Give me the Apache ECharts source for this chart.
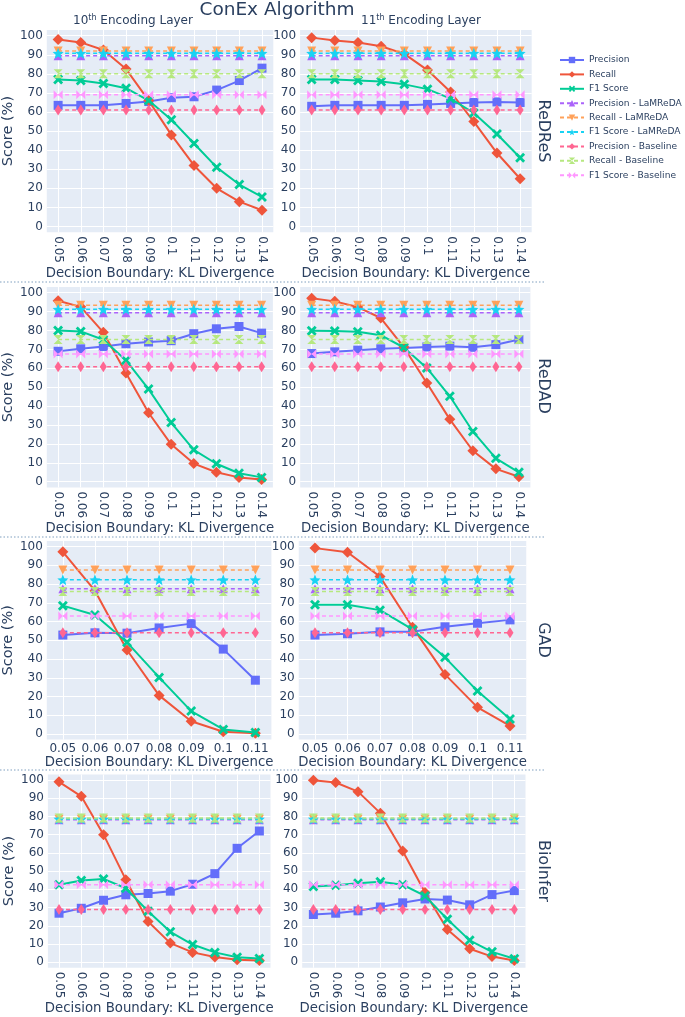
<!DOCTYPE html>
<html><head><meta charset="utf-8">
<script src="https://cdn.jsdelivr.net/npm/echarts@6/dist/echarts.min.js"></script>
<style>html,body{margin:0;padding:0;background:#fff}#c{width:685px;height:1017px}</style>
</head><body><div id="c"></div>
<script>
// ---------- DATA ----------
const catsLong = ['0.05','0.06','0.07','0.08','0.09','0.1','0.11','0.12','0.13','0.14'];
const catsShort = ['0.05','0.06','0.07','0.08','0.09','0.1','0.11'];
const yTicks = [0,10,20,30,40,50,60,70,80,90,100];
const datasetNames = ['ReDReS','ReDAD','GAD','BioInfer'];
const seriesNames = ['Precision','Recall','F1 Score','Precision - LaMReDA','Recall - LaMReDA','F1 Score - LaMReDA','Precision - Baseline','Recall - Baseline','F1 Score - Baseline'];

// ReDReS
const redres10Precision = [63.5,63.5,63.5,64.5,65.5,67.5,68,71.5,76.5,83];
const redres10Recall    = [98,96.5,92.5,82.5,66,48,32,20,13,8.5];
const redres10F1        = [77,76.5,75,72.5,66,56,43.5,31,22,15.5];
const redres11Precision = [63,63.5,63.5,63.5,63.5,64,64.5,65,65.3,65];
const redres11Recall    = [99,97.5,96.5,94.5,90.5,82,70.5,55,38.5,25];
const redres11F1        = [77,77,76.5,76,74.5,72,67,59.5,48.5,36];
// reference levels: P-LaMReDA, R-LaMReDA, F1-LaMReDA, P-Baseline, R-Baseline, F1-Baseline
const redresRefs        = [89.5,92,90.8,61,80,69];

// ReDAD
const redad10Precision = [69,70.3,71.5,73,73.9,74.6,78.3,80.9,82.1,78.6];
const redad10Recall    = [95.7,92.5,79,57.5,36.5,19.8,9.6,5,2.3,1.2];
const redad10F1        = [80,79.5,75.1,64.3,49,31.3,16.9,9.5,4.5,2.3];
const redad11Precision = [67.8,68.7,69.6,70.3,70.8,71.3,71.7,71.1,72.5,75.2];
const redad11Recall    = [97,95.4,92.4,86.6,71.2,52.2,33,16.4,6.8,2.6];
const redad11F1        = [79.8,79.7,79.3,77.5,71,60.2,45.2,26.6,12.4,5];
const redadRefs        = [89.4,93.4,91.2,60.8,75.2,67.6];

// GAD
const gad10Precision = [52.8,54,53.8,56.6,58.9,45.3,28.7];
const gad10Recall    = [97.2,76.5,44.8,20.6,6.8,1.2,0.4];
const gad10F1        = [68.5,63.5,48.9,30.2,12.2,2.4,0.8];
const gad11Precision = [52.8,53.5,54.5,54.6,57.2,59.1,60.9];
const gad11Recall    = [99.2,97,84,57,31.8,14.2,4.3];
const gad11F1        = [69,69,66.1,55.8,40.9,22.9,8];
const gadRefs        = [77.5,87.5,82.3,54,76,63];

// BioInfer
const bio10Precision = [26.9,29.6,34,37,37.7,39,42.8,48.6,62.5,72];
const bio10Recall    = [99,91,70,45.3,22.3,10.5,5.4,2.9,1.4,1];
const bio10F1        = [42.5,44.8,45.7,40.6,28,16.7,9.7,5.4,2.7,2];
const bio11Precision = [26.2,26.9,28.2,30.3,32.6,34.7,34.1,31.5,37.1,39.3];
const bio11Recall    = [99.8,98.6,93.6,81.8,61,38.3,18,7.4,3.1,1];
const bio11F1        = [41.5,42.3,43.3,44.2,42.5,36.4,23.6,12,5.7,1.9];
const bioRefs        = [78.2,78.4,78.6,29,79.2,42.5];

// ---------- LAYOUT / STYLE ----------
const FONT = 'DejaVu Sans';
const TXT = '#2a3f5f';
const colors = ['#636EFA','#EF553B','#00CC96','#AB63FA','#FFA15A','#19D3F3','#FF6692','#B6E880','#FF97FF'];
const pX = 'path://M2,0 L5,3 L8,0 L10,2 L7,5 L10,8 L8,10 L5,7 L2,10 L0,8 L3,5 L0,2 Z';
const pTriDown = 'path://M0,0 L10,0 L5,9 Z';
const pStar = 'path://M5,0 L6.3,3.3 L9.76,3.45 L7.1,5.7 L7.94,9.05 L5,7.2 L2.06,9.05 L2.9,5.7 L0.24,3.45 L3.7,3.3 Z';
const pThinDia = 'path://M3,0 L6,5 L3,10 L0,5 Z';
const pHour = 'path://M0,0 L10,0 L5,5 Z M0,10 L10,10 L5,5 Z';
const pBow = 'path://M0,0 L5,5 L0,10 Z M10,0 L5,5 L10,10 Z';
const symbols = ['rect','diamond',pX,'triangle',pTriDown,pStar,pThinDia,pHour,pBow];
const symSizes = [9,11,10,9,9,11,[7,11],9,9];

const rowGeom = [
  {top:30, height:202.2, rot:-90, gap:33},
  {top:287, height:200.4, rot:-90, gap:33},
  {top:541, height:198.6, rot:0, gap:16},
  {top:774.5, height:193.2, rot:-90, gap:33}
];
const colGeom = [
  [[40,233.3],[300.1,231.6]],
  [[39.6,233.3],[300.2,230.2]],
  [[41.9,229.5],[298.75,227.5]],
  [[47.9,222.6],[302.2,223.3]]
];

const panels = [
  {row:0,col:0,cats:catsLong,vals:[redres10Precision,redres10Recall,redres10F1],refs:redresRefs},
  {row:0,col:1,cats:catsLong,vals:[redres11Precision,redres11Recall,redres11F1],refs:redresRefs},
  {row:1,col:0,cats:catsLong,vals:[redad10Precision,redad10Recall,redad10F1],refs:redadRefs},
  {row:1,col:1,cats:catsLong,vals:[redad11Precision,redad11Recall,redad11F1],refs:redadRefs},
  {row:2,col:0,cats:catsShort,vals:[gad10Precision,gad10Recall,gad10F1],refs:gadRefs},
  {row:2,col:1,cats:catsShort,vals:[gad11Precision,gad11Recall,gad11F1],refs:gadRefs},
  {row:3,col:0,cats:catsLong,vals:[bio10Precision,bio10Recall,bio10F1],refs:bioRefs},
  {row:3,col:1,cats:catsLong,vals:[bio11Precision,bio11Recall,bio11F1],refs:bioRefs}
];

const grids = [], xAxes = [], yAxes = [], series = [];
panels.forEach((p, i) => {
  const rg = rowGeom[p.row], cg = colGeom[p.row][p.col];
  grids.push({left:cg[0], width:cg[1], top:rg.top, height:rg.height, show:true, backgroundColor:'#E5ECF6', borderWidth:0, containLabel:false});
  const idx = p.cats.map((c, j) => j);
  xAxes.push({
    type:'value', gridIndex:i, min:-0.5, max:p.cats.length-0.5,
    axisLine:{show:false},
    axisTick:{show:false, customValues:idx},
    splitLine:{show:true, customValues:idx, lineStyle:{color:'#fff', width:1}},
    axisLabel:{customValues:idx, rotate:rg.rot, margin:rg.rot ? 4 : 3, fontFamily:FONT, fontSize:12, color:TXT,
      formatter:v => p.cats[Math.round(v)]},
    name:'Decision Boundary: KL Divergence', nameLocation:'middle', nameGap:rg.gap,
    nameTextStyle:{fontFamily:FONT, fontSize:13.3, color:TXT}
  });
  yAxes.push({
    type:'value', gridIndex:i, min:-3, max:103,
    axisLine:{show:false},
    axisTick:{show:false, customValues:yTicks},
    splitLine:{show:true, customValues:yTicks, lineStyle:{color:'#fff', width:1}},
    axisLabel:{customValues:yTicks, margin:4, fontFamily:FONT, fontSize:12, color:TXT},
    name: p.col === 0 ? 'Score (%)' : '', nameLocation:'middle', nameGap:24,
    nameTextStyle:{fontFamily:FONT, fontSize:14.5, color:TXT}
  });
  for (let s = 0; s < 9; s++) {
    const main = s < 3;
    const data = main ? p.vals[s].map((v, j) => [j, v]) : p.cats.map((c, j) => [j, p.refs[s-3]]);
    series.push({
      type:'line', name:seriesNames[s], xAxisIndex:i, yAxisIndex:i, data:data,
      symbol:symbols[s], symbolSize:symSizes[s], showAllSymbol:true,
      itemStyle:{color:colors[s]},
      lineStyle:{color:colors[s], width: main ? 2 : 1.5, type: main ? 'solid' : [4,3]},
      emphasis:{disabled:true}, z: 2 + s*0.01
    });
  }
});

const graphics = [
  {type:'text', x:277, y:10, style:{text:'ConEx Algorithm', fontFamily:FONT, fontSize:18.5, fill:TXT, align:'center', verticalAlign:'middle'}},
  {type:'text', x:133, y:21, style:{text:'{a|10}{s|th}{a| Encoding Layer}', align:'center', verticalAlign:'middle',
     rich:{a:{fontFamily:FONT, fontSize:12, fill:TXT, color:TXT, lineHeight:14}, s:{fontFamily:FONT, fontSize:8, fill:TXT, color:TXT, verticalAlign:'top', lineHeight:14, padding:[0,0,6,0]}}}},
  {type:'text', x:421, y:21, style:{text:'{a|11}{s|th}{a| Encoding Layer}', align:'center', verticalAlign:'middle',
     rich:{a:{fontFamily:FONT, fontSize:12, fill:TXT, color:TXT, lineHeight:14}, s:{fontFamily:FONT, fontSize:8, fill:TXT, color:TXT, verticalAlign:'top', lineHeight:14, padding:[0,0,6,0]}}}}
];
const rowLabelY = [131, 386, 640, 871];
datasetNames.forEach((n, k) => {
  graphics.push({type:'text', x:543, y:rowLabelY[k], rotation:-Math.PI/2,
    style:{text:n, fontFamily:FONT, fontSize:16, fill:TXT, align:'center', verticalAlign:'middle'}});
});
[282, 537, 770].forEach(y => {
  graphics.push({type:'line', shape:{x1:0, y1:y, x2:545, y2:y}, style:{stroke:'#7f9fbf', lineWidth:1, lineDash:[1.5,2]}});
});

const chart = echarts.init(document.getElementById('c'), null, {renderer:'canvas'});
chart.setOption({
  animation:false,
  backgroundColor:'#fff',
  grid:grids, xAxis:xAxes, yAxis:yAxes, series:series,
  legend:{data:seriesNames, orient:'vertical', left:559, top:55, padding:0, itemWidth:24, itemHeight:8, itemGap:4.4,
    textStyle:{fontFamily:FONT, fontSize:9.1, lineHeight:10, color:TXT, width:100, overflow:'none'}, selectedMode:false},
  graphic:graphics
});
</script>
</body></html>
